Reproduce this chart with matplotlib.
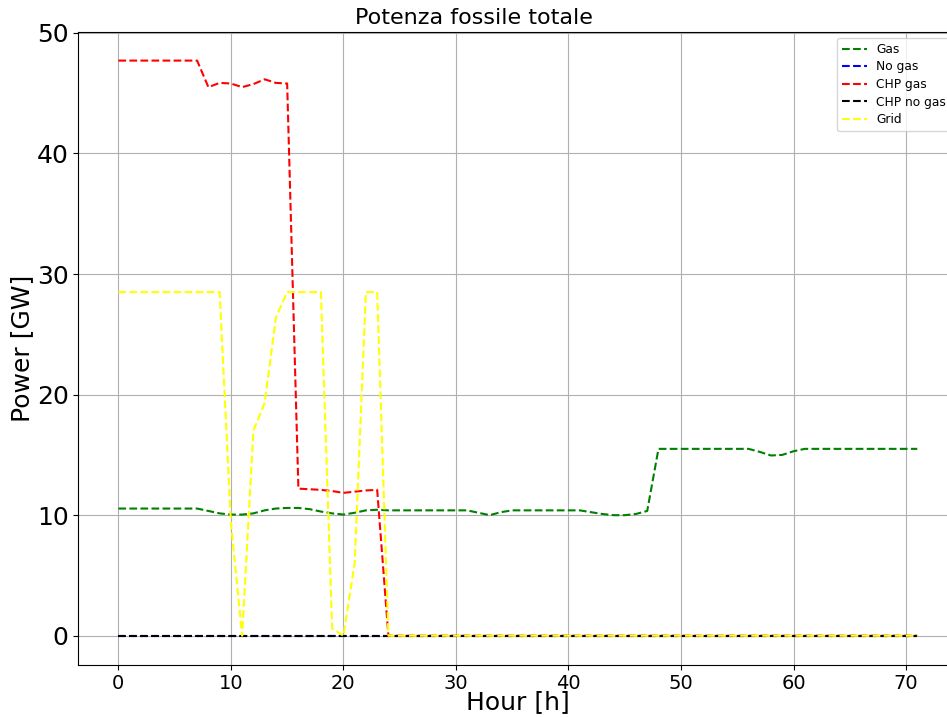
import matplotlib
matplotlib.use("Agg")
import matplotlib.pyplot as plt


hours = list(range(72))

gas = [
    10.55, 10.55, 10.55, 10.55, 10.55, 10.55, 10.55, 10.55,
    10.35, 10.15, 10.05, 10.05, 10.15, 10.4, 10.55, 10.6,
    10.6, 10.5, 10.3, 10.15, 10.05, 10.2, 10.4, 10.45,
    10.4, 10.4, 10.4, 10.4, 10.4, 10.4, 10.4, 10.4,
    10.2, 10.0, 10.25, 10.4, 10.4, 10.4, 10.4, 10.4,
    10.4, 10.4, 10.25, 10.1, 10.0, 10.0, 10.1, 10.35,
    15.5, 15.5, 15.5, 15.5, 15.5, 15.5, 15.5, 15.5,
    15.5, 15.25, 14.95, 15.0, 15.3, 15.5, 15.5, 15.5,
    15.5, 15.5, 15.5, 15.5, 15.5, 15.5, 15.5, 15.5,
]

no_gas = [0.0] * 72

chp_gas = [
    47.7, 47.7, 47.7, 47.7, 47.7, 47.7, 47.7, 47.7,
    45.5, 45.85, 45.8, 45.5, 45.75, 46.15, 45.85, 45.8,
    12.2, 12.15, 12.1, 12.0, 11.85, 11.95, 12.05, 12.1,
] + [0.0] * 48

chp_no_gas = [0.0] * 72

grid = [
    28.5, 28.5, 28.5, 28.5, 28.5, 28.5, 28.5, 28.5,
    28.5, 28.5, 9.4, 0.0, 17.0, 19.3, 26.4, 28.5,
    28.5, 28.5, 28.5, 0.6, 0.0, 6.0, 28.5, 28.5,
] + [0.0] * 48

series = [
    ("Gas", gas, "green"),
    ("No gas", no_gas, "blue"),
    ("CHP gas", chp_gas, "red"),
    ("CHP no gas", chp_no_gas, "black"),
    ("Grid", grid, "yellow"),
]


fig = plt.figure(figsize=(9.47, 7.17), dpi=100)
# right edge of the axes sits just past the figure, like the cropped original
ax = fig.add_axes([0.0828, 0.0732, 0.928, 0.8824])

for label, values, color in series:
    ax.plot(hours, values, "--", color=color, linewidth=1.5, label=label)

# title is centred on the figure, not on the axes
fig.suptitle("Potenza fossile totale", fontsize=16, x=0.5, y=1 - 18 / 717, va="center")
ax.set_xlabel("Hour [h]", fontsize=18)
ax.xaxis.set_label_coords(0.5, -0.041)
ax.set_ylabel("Power [GW]", fontsize=18, labelpad=2)
ax.tick_params(axis="x", labelsize=14, pad=3)
ax.tick_params(axis="y", labelsize=18)
ax.grid(True)
ax.legend(loc="upper right", fontsize=8.8, labelspacing=0.38)

fig.savefig("out.png", dpi=100)
